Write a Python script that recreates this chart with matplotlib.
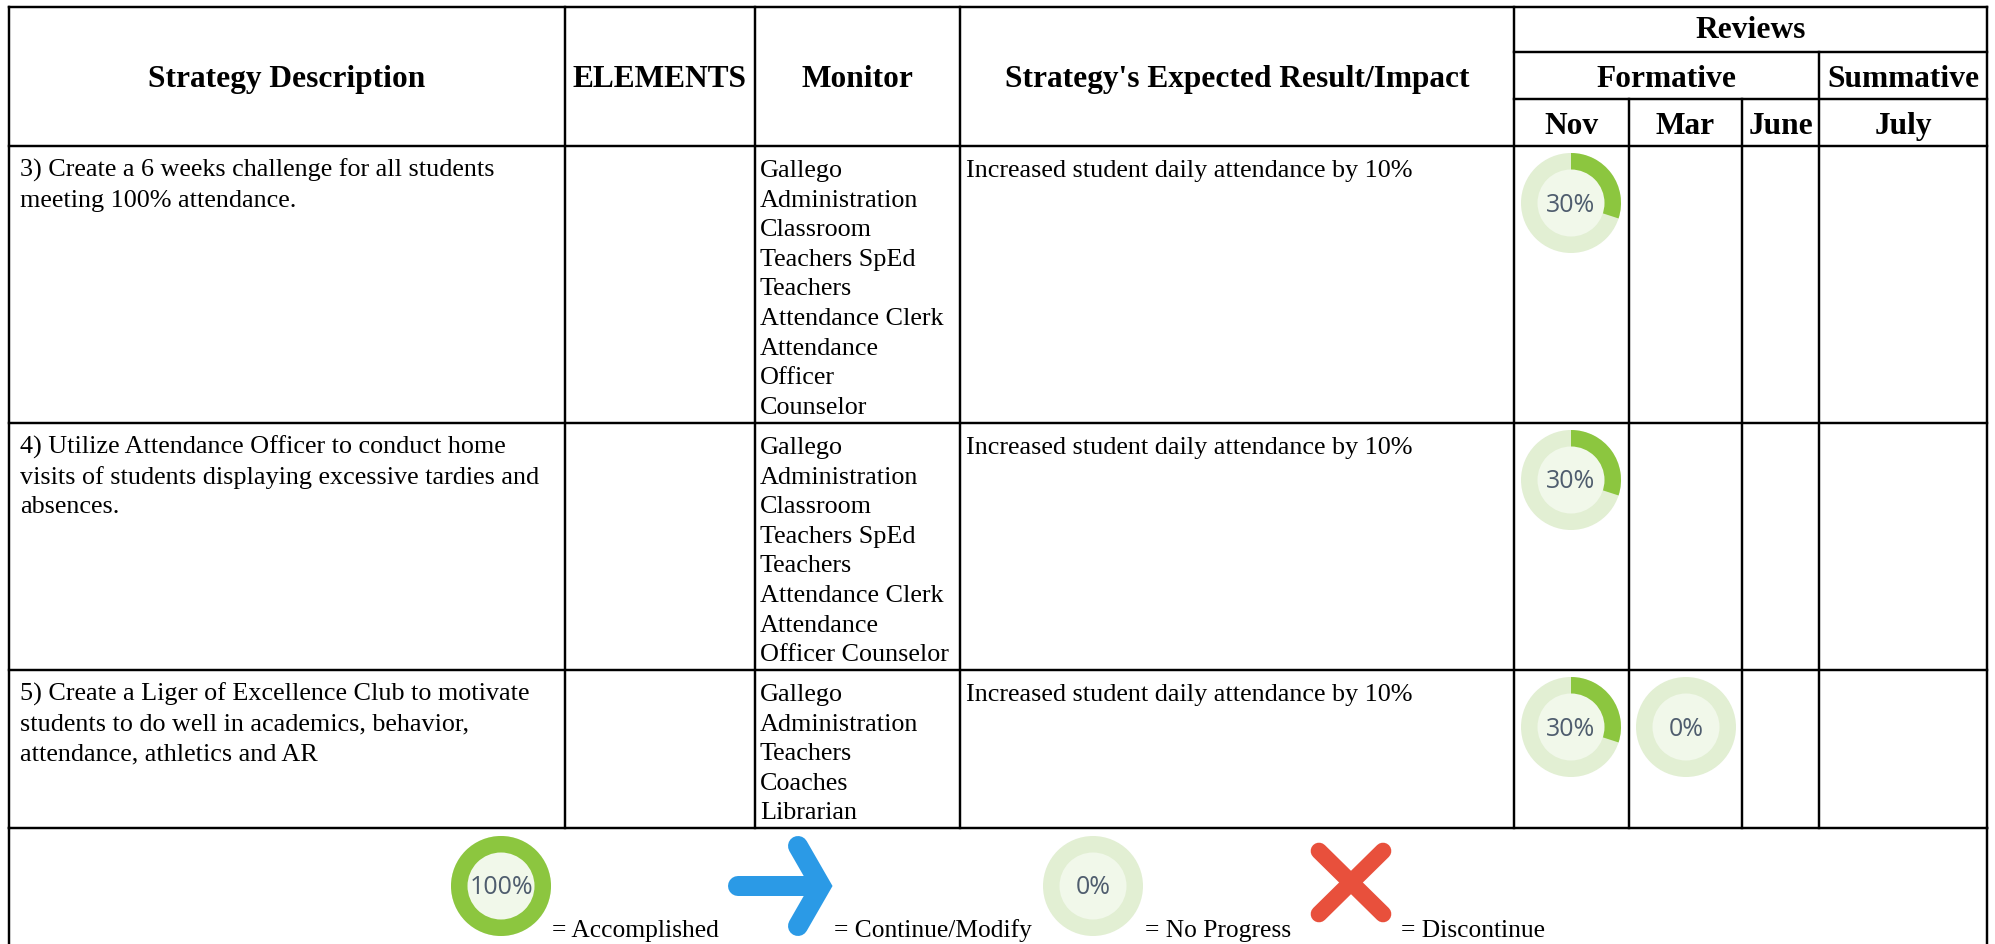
import matplotlib
matplotlib.use("Agg")
import matplotlib.pyplot as plt
from matplotlib.patches import Wedge, Circle
from matplotlib.lines import Line2D

W, H = 1995, 945
SERIF = "Liberation Serif"
SANS = "Open Sans"

# ---- content ----
main_headers = ["Strategy Description", "ELEMENTS", "Monitor", "Strategy's Expected Result/Impact"]
top_header = "Reviews"
group_headers = ["Formative", "Summative"]
month_headers = ["Nov", "Mar", "June", "July"]

strategies = [
    ["3) Create a 6 weeks challenge for all students", "meeting 100% attendance."],
    ["4) Utilize Attendance Officer to conduct home",
     "visits of students displaying excessive tardies and", "absences."],
    ["5) Create a Liger of Excellence Club to motivate",
     "students to do well in academics, behavior,", "attendance, athletics and AR"],
]
monitors = [
    ["Gallego", "Administration", "Classroom", "Teachers SpEd", "Teachers", "Attendance Clerk",
     "Attendance", "Officer", "Counselor"],
    ["Gallego", "Administration", "Classroom", "Teachers SpEd", "Teachers", "Attendance Clerk",
     "Attendance", "Officer Counselor"],
    ["Gallego", "Administration", "Teachers", "Coaches", "Librarian"],
]
impact = "Increased student daily attendance by 10%"
progress_nov = [30, 30, 30]
progress_mar = [None, None, 0]
legend_labels = ["= Accomplished", "= Continue/Modify", "= No Progress", "= Discontinue"]
legend_progress = [100, 0]

# ---- layout (pixels) ----
col_x = [9, 565, 754.5, 960, 1514, 1629, 1742, 1819, 1987]
row_tops = [147, 424, 671]
table_bottom = 829
head_y = [7.5, 53, 100]
LINE_H = 29.6
ring_offset = 57

fig = plt.figure(figsize=(W / 100, H / 100), dpi=100, facecolor="white")
ax = fig.add_axes([0, 0, 1, 1])
ax.set_xlim(0, W)
ax.set_ylim(H, 0)
ax.axis("off")

LW = 1.75
GREEN, PALE, INNER = "#8cc63f", "#e2efd3", "#f1f8ea"
BLUE, RED = "#2b9ae6", "#e8503c"


def seg(x0, y0, x1, y1, lw=LW):
    ax.add_line(Line2D([x0, x1], [y0, y1], color="black", lw=lw, solid_capstyle="projecting"))


def body(x, y, s, fs=18.8):
    ax.text(x, y, s, family=SERIF, fontsize=fs, color="black", va="baseline", ha="left")


def head(xc, y, s):
    ax.text(xc, y, s, family=SERIF, fontsize=22.6, weight="bold", color="black", va="baseline", ha="center")


def ring(xc, yc, pct, fs=18):
    ax.add_patch(Circle((xc, yc), 50, fc=PALE, ec="none"))
    if pct >= 100:
        ax.add_patch(Circle((xc, yc), 50, fc=GREEN, ec="none"))
    elif pct:
        ax.add_patch(Wedge((xc, yc), 50, -90, -90 + 3.6 * pct, fc=GREEN, ec="none"))
    ax.add_patch(Circle((xc, yc), 33.5, fc=INNER, ec="none"))
    ax.text(xc, yc + 1, f"{pct}%", family=SANS, fontsize=fs, color="#4f5d6e", ha="center", va="center")


# grid
for y in [head_y[0]] + row_tops + [table_bottom]:
    seg(col_x[0], y, col_x[-1], y)
seg(col_x[4], head_y[1], col_x[-1], head_y[1])
seg(col_x[4], head_y[2], col_x[-1], head_y[2])
for x in col_x[:5] + [col_x[-1]]:
    seg(x, head_y[0], x, table_bottom)
for x in col_x[5:7]:
    seg(x, head_y[2], x, table_bottom)
seg(col_x[7], head_y[1], col_x[7], table_bottom)
seg(col_x[0], table_bottom, col_x[0], H)
seg(col_x[-1], table_bottom, col_x[-1], H)

# headers
for i, s in enumerate(main_headers):
    head((col_x[i] + col_x[i + 1]) / 2, 87, s)
head((col_x[4] + col_x[8]) / 2, 38, top_header)
head((col_x[4] + col_x[7]) / 2, 87, group_headers[0])
head((col_x[7] + col_x[8]) / 2, 87, group_headers[1])
for i, s in enumerate(month_headers):
    head((col_x[4 + i] + col_x[5 + i]) / 2, 134, s)

# rows
for r, top in enumerate(row_tops):
    base = top + 30
    for k, s in enumerate(strategies[r]):
        body(20, base + k * LINE_H, s)
    for k, s in enumerate(monitors[r]):
        body(760, base + k * LINE_H, s)
    body(966, base, impact)
    ring(1571, top + ring_offset, progress_nov[r])
    if progress_mar[r] is not None:
        ring(1686, top + ring_offset, progress_mar[r])

# legend icons
ring(501, 887, legend_progress[0])
ring(1093, 887, legend_progress[1])

# arrow
ax.add_line(Line2D([738, 818], [887, 887], color=BLUE, lw=14.4, solid_capstyle="round"))
ax.add_line(Line2D([798, 821, 798], [847, 887, 927], color=BLUE, lw=14.4,
                   solid_capstyle="round", solid_joinstyle="miter"))
# cross
ax.add_line(Line2D([1319, 1383], [852, 915], color=RED, lw=12, solid_capstyle="round"))
ax.add_line(Line2D([1383, 1319], [852, 915], color=RED, lw=12, solid_capstyle="round"))

for x, s in zip([552, 834, 1145, 1401], legend_labels):
    body(x, 937, s, fs=18.4)

fig.savefig("out.png", dpi=100, facecolor="white")
